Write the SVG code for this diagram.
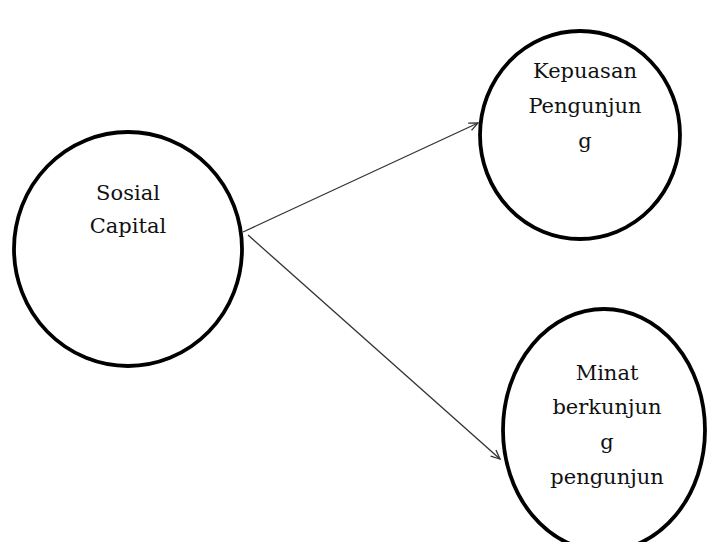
<svg xmlns="http://www.w3.org/2000/svg" width="707" height="542" viewBox="0 0 707 542">
<style>
.node{fill:#fff;stroke:#000;stroke-width:3.8}
.lbl{font-family:"DejaVu Serif","Liberation Serif",serif;font-size:21px;fill:#111;text-anchor:middle}
.conn{stroke:#333;stroke-width:1.3;fill:none}
</style>
<defs>
<marker id="arr" markerWidth="12" markerHeight="12" refX="10" refY="5" orient="auto" markerUnits="userSpaceOnUse" viewBox="0 0 12 10">
<path d="M1,1 L10,5 L1,9" fill="none" stroke="#333" stroke-width="1.3"/>
</marker>
</defs>
<rect width="707" height="542" fill="#fff"/>
<g id="sosial-capital">
<ellipse class="node" cx="128" cy="249" rx="114" ry="117"/>
<text class="lbl" x="128" y="200">Sosial</text>
<text class="lbl" x="128" y="233">Capital</text>
</g>
<g id="kepuasan">
<ellipse class="node" cx="580" cy="135" rx="100" ry="104"/>
<text class="lbl" x="585" y="78">Kepuasan</text>
<text class="lbl" x="585" y="113">Pengunjun</text>
<text class="lbl" x="585" y="148">g</text>
</g>
<g id="minat">
<ellipse class="node" cx="604" cy="430" rx="101" ry="121"/>
<text class="lbl" x="607" y="380">Minat</text>
<text class="lbl" x="607" y="414">berkunjun</text>
<text class="lbl" x="607" y="449">g</text>
<text class="lbl" x="607" y="484">pengunjun</text>
</g>
<g id="connectors">
<line class="conn" x1="243" y1="232" x2="478" y2="123" marker-end="url(#arr)"/>
<line class="conn" x1="248" y1="235" x2="500" y2="459" marker-end="url(#arr)"/>
</g>
</svg>
